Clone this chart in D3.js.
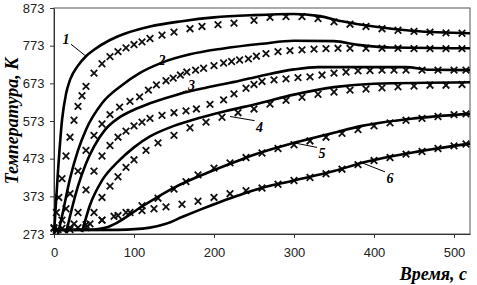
<!DOCTYPE html>
<html>
<head>
    <meta charset="utf-8">
    <script src="https://d3js.org/d3.v7.min.js"></script>
    <style>
        body { margin: 0; background: #fff; }
    </style>
</head>
<body>
<svg width="477" height="285" id="mainSvg"></svg>
<script>
    // расчёт (сплошные линии): время, с / температура, К
    const calc1t = [0, 5, 10, 15, 20, 30, 40, 50, 70, 90, 120, 160, 200, 250, 300, 330, 360, 400, 450, 520];
    const calc1T = [273, 440, 575, 645, 682, 720, 745, 762, 788, 806, 824, 838, 848, 854, 857, 852, 838, 824, 812, 806];
    const calc2t = [5, 10, 20, 30, 40, 60, 85, 107, 135, 170, 210, 260, 300, 350, 380, 420, 520];
    const calc2T = [273, 320, 420, 495, 550, 620, 668, 700, 728, 750, 765, 778, 786, 785, 775, 768, 766];
    const calc3t = [15, 20, 30, 40, 50, 64, 80, 100, 120, 157, 191, 232, 257, 300, 330, 440, 470, 520];
    const calc3T = [275, 320, 400, 460, 505, 550, 580, 603, 620, 645, 662, 680, 692, 710, 716, 716, 709, 708];
    const calc4t = [35, 45, 60, 80, 100, 120, 150, 180, 210, 257, 300, 350, 400, 520];
    const calc4T = [278, 350, 415, 465, 503, 532, 560, 580, 597, 620, 643, 663, 672, 676];
    const calc5t = [0, 50, 65, 78, 107, 149, 191, 232, 251, 300, 350, 385, 450, 520];
    const calc5T = [285, 285, 290, 302, 342, 395, 435, 469, 484, 515, 542, 560, 580, 592];
    const calc6t = [0, 80, 120, 140, 160, 182, 210, 230, 251, 300, 350, 385, 450, 520];
    const calc6T = [283, 284, 290, 300, 318, 337, 360, 375, 390, 415, 440, 462, 490, 513];

    // эксперимент (маркеры)
    const exp1t = [0, 3, 6, 10, 15, 20, 25, 30, 35, 40, 50, 60, 70, 80, 90, 100, 110, 120, 135, 150, 170, 185, 205, 225, 250, 270, 290, 310, 330, 350, 370, 390, 410, 430, 450, 470, 490, 510];
    const exp1T = [290, 330, 370, 420, 480, 530, 575, 612, 640, 665, 700, 725, 744, 757, 767, 776, 783, 792, 801, 809, 818, 824, 829, 833, 840, 848, 850, 850, 845, 836, 830, 824, 818, 814, 811, 809, 807, 806];
    const exp2t = [5, 10, 15, 20, 30, 40, 50, 60, 70, 82, 95, 107, 118, 128, 140, 149, 158, 166, 177, 187, 200, 212, 222, 232, 243, 253, 265, 280, 295, 310, 325, 340, 355, 370, 390, 410, 430, 450, 470, 490, 510];
    const exp2T = [285, 310, 340, 380, 440, 495, 535, 565, 590, 610, 625, 637, 655, 669, 680, 687, 695, 703, 708, 713, 720, 727, 731, 735, 738, 745, 752, 757, 760, 762, 764, 765, 766, 766, 766, 766, 766, 765, 765, 765, 765];
    const exp3t = [20, 25, 30, 40, 50, 60, 70, 80, 90, 100, 110, 120, 135, 150, 165, 178, 195, 212, 225, 240, 250, 260, 275, 290, 305, 320, 335, 350, 365, 380, 395, 410, 425, 440, 460, 480, 500, 515];
    const exp3T = [285, 300, 330, 390, 440, 480, 508, 530, 546, 560, 570, 580, 588, 595, 600, 605, 617, 629, 645, 660, 670, 678, 682, 685, 688, 690, 695, 700, 703, 706, 707, 708, 708, 708, 708, 708, 708, 708];
    const exp4t = [40, 50, 60, 70, 80, 90, 100, 115, 130, 150, 170, 190, 210, 230, 250, 270, 290, 310, 330, 350, 370, 390, 410, 430, 450, 470, 490, 510];
    const exp4T = [290, 330, 370, 400, 425, 450, 470, 495, 515, 535, 555, 570, 583, 595, 605, 618, 628, 636, 644, 650, 655, 658, 661, 664, 666, 668, 668, 670];
    const exp5t = [30, 45, 60, 75, 90, 110, 130, 150, 165, 180, 200, 220, 240, 260, 280, 300, 320, 340, 360, 380, 400, 420, 440, 460, 480, 500, 515];
    const exp5T = [290, 300, 310, 320, 330, 348, 368, 392, 412, 430, 448, 462, 476, 488, 500, 510, 520, 530, 540, 550, 560, 568, 575, 580, 585, 590, 592];
    const exp6t = [0, 10, 20, 40, 60, 80, 95, 110, 125, 140, 160, 180, 200, 220, 240, 260, 280, 300, 320, 340, 360, 380, 400, 420, 440, 460, 480, 500, 515];
    const exp6T = [288, 288, 290, 298, 310, 322, 330, 335, 340, 345, 352, 360, 370, 380, 388, 395, 405, 415, 423, 433, 445, 457, 468, 476, 485, 492, 500, 507, 512];

    // подписи кривых: номер, точка на кривой, место подписи
    const labelNames = ["1", "2", "3", "4", "5", "6"];
    const labelPointT = [[40, 745], [120, 714], [150, 641], [220, 585], [300, 515], [385, 462]];
    const labelTextT = [[15, 790], [135, 735], [172, 667], [257, 558], [335, 487], [420, 422]];

    const yTicks = [273, 373, 473, 573, 673, 773, 873];
    const xTicks = [0, 100, 200, 300, 400, 500];

    const svg = d3.select("#mainSvg");
    const margin = { top: 8, right: 7, bottom: 51, left: 54 };
    const width = +svg.attr("width") - margin.left - margin.right;
    const height = +svg.attr("height") - margin.top - margin.bottom;
    const g = svg.append("g").attr("transform", `translate(${margin.left}, ${margin.top})`);

    const xScale = d3.scaleLinear().domain([0, 520]).range([0, width]);
    const yScale = d3.scaleLinear().domain([273, 873]).range([height, 0]);

    // рамка
    g.append("rect")
        .attr("width", width).attr("height", height)
        .attr("fill", "none").attr("stroke", "#555").attr("stroke-width", 1);

    const xAxis = g.append("g")
        .attr("transform", `translate(0, ${height})`)
        .call(d3.axisBottom(xScale).tickValues(xTicks).tickSize(4).tickSizeOuter(0));
    const yAxis = g.append("g")
        .call(d3.axisLeft(yScale).tickValues(yTicks).tickSize(4).tickSizeOuter(0));
    [xAxis, yAxis].forEach(a => {
        a.select(".domain").attr("stroke", "#333");
        a.selectAll(".tick line").attr("stroke", "#333");
        a.selectAll("text")
            .attr("font-family", "Liberation Sans, Arial, sans-serif")
            .attr("font-size", 13).attr("fill", "#222");
    });
    xAxis.selectAll("text").attr("dy", "1.25em");
    yAxis.selectAll("text").attr("dx", "-0.2em");

    const line = d3.line()
        .x(d => xScale(d[0]))
        .y(d => yScale(d[1]))
        .curve(d3.curveMonotoneX);

    const zip = (ts, Ts) => ts.map((t, i) => [t, Ts[i]]);

    const calcSeries = [zip(calc1t, calc1T), zip(calc2t, calc2T), zip(calc3t, calc3T),
        zip(calc4t, calc4T), zip(calc5t, calc5T), zip(calc6t, calc6T)];
    const expSeries = [zip(exp1t, exp1T), zip(exp2t, exp2T), zip(exp3t, exp3T),
        zip(exp4t, exp4T), zip(exp5t, exp5T), zip(exp6t, exp6T)];

    const symbol = d3.symbol().type(d3.symbolTimes).size(30);
    expSeries.forEach(s => {
        g.append("g").selectAll("path")
            .data(s).join("path")
            .attr("transform", d => `translate(${xScale(d[0])}, ${yScale(d[1])})`)
            .attr("d", symbol)
            .attr("fill", "none")
            .attr("stroke", "#111")
            .attr("stroke-width", 1.8);
    });

    calcSeries.forEach(s => {
        g.append("path")
            .datum(s)
            .attr("d", line)
            .attr("fill", "none")
            .attr("stroke", "#000")
            .attr("stroke-width", 2.6);
    });

    // номера кривых с выносками
    labelNames.forEach((name, i) => {
        const p = labelPointT[i], q = labelTextT[i];
        const px = xScale(p[0]), py = yScale(p[1]);
        const qx = xScale(q[0]), qy = yScale(q[1]);
        const dx = px < qx ? -5 : 5;
        const dy = py < qy ? -6 : 5;
        g.append("line")
            .attr("x1", px).attr("y1", py)
            .attr("x2", qx + dx).attr("y2", qy + dy)
            .attr("stroke", "#000").attr("stroke-width", 1);
        g.append("text")
            .attr("x", qx).attr("y", qy)
            .attr("text-anchor", "middle")
            .attr("dy", "0.35em")
            .attr("font-family", "Liberation Serif, Times New Roman, serif")
            .attr("font-style", "italic").attr("font-weight", "bold")
            .attr("font-size", 14)
            .text(name);
    });

    // подписи осей
    svg.append("text")
        .attr("transform", `translate(18, ${margin.top + height / 2}) rotate(-90)`)
        .attr("text-anchor", "middle")
        .attr("font-family", "Liberation Serif, Times New Roman, serif")
        .attr("font-style", "italic").attr("font-weight", "bold")
        .attr("font-size", 18)
        .text("Температура, К");

    svg.append("text")
        .attr("x", 467).attr("y", 280)
        .attr("text-anchor", "end")
        .attr("font-family", "Liberation Serif, Times New Roman, serif")
        .attr("font-style", "italic").attr("font-weight", "bold")
        .attr("font-size", 18)
        .text("Время, с");
</script>
</body>
</html>
